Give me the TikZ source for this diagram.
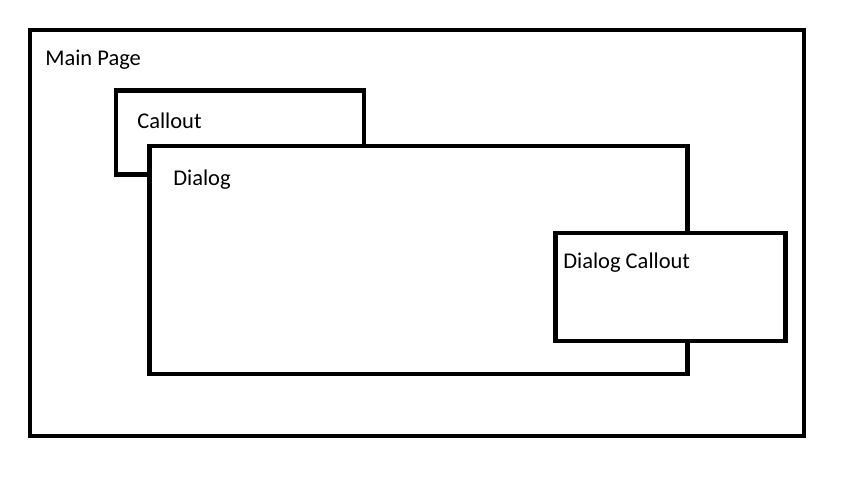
\documentclass[tikz,border=0pt]{standalone}
\usepackage{fontspec}
\setmainfont{Carlito}
\usetikzlibrary{positioning}

\tikzset{
  frame/.style={draw=black, line width=3pt, fill=white, rectangle, inner sep=0pt},
  caption/.style={anchor=west, inner sep=0pt, font=\fontsize{16}{18}\selectfont}
}

\begin{document}
\begin{tikzpicture}[x=0.025cm, y=-0.025cm]
  \useasboundingbox (0,0) rectangle (844,477);

  % Boxes
  \node[frame, minimum width=19.35cm, minimum height=10.15cm] (main) at (417,233) {};
  \node[frame, minimum width=6.2cm, minimum height=2.1cm] (callout) at (240,132.5) {};
  \node[frame, minimum width=13.45cm, minimum height=5.7cm] (dialog) at (418.5,260) {};
  \node[frame, minimum width=5.75cm, minimum height=2.7cm] (dcallout) at (670.5,287) {};

  % Labels
  \node[caption] (mainlbl) at (45,60) {Main Page};
  \node[caption] (calloutlbl) at (137,121) {Callout};
  \node[caption] (dialoglbl) at (173,180) {Dialog};
  \node[caption] (dcalloutlbl) at (563,263) {Dialog Callout};
\end{tikzpicture}
\end{document}
